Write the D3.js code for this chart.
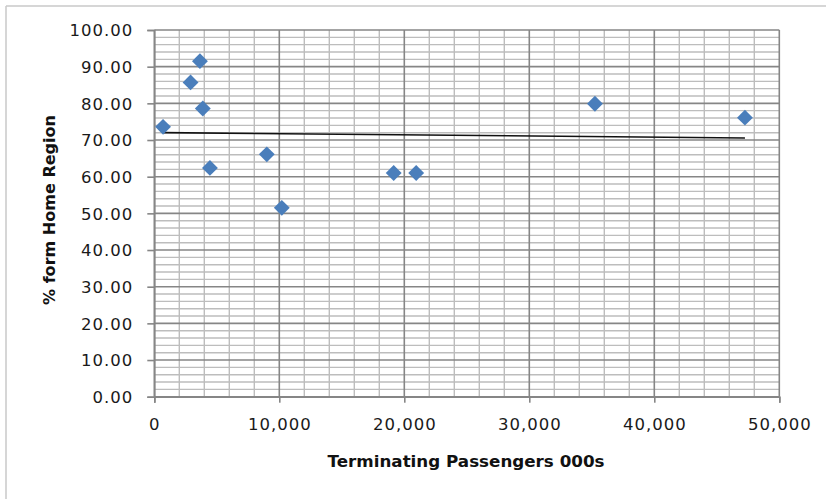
<!DOCTYPE html>
<html>
<head>
<meta charset="utf-8">
<script src="https://cdn.jsdelivr.net/npm/d3@7"></script>
<style>
  html, body { margin: 0; padding: 0; background: #fff; }
  svg { display: block; }
  text { font-family: "DejaVu Sans", Verdana, sans-serif; }
</style>
</head>
<body>
<svg id="chart" width="826" height="499"></svg>
<script>
// ---- data ----
const passengers = [700, 2900, 3650, 3880, 4450, 9000, 10200, 19150, 20950, 35250, 47250];
const homeRegion = [73.6, 85.7, 91.5, 78.6, 62.4, 66.1, 51.5, 61.0, 61.0, 79.9, 76.1];
const xTicks = [0, 10000, 20000, 30000, 40000, 50000];
const yTicks = [0, 10, 20, 30, 40, 50, 60, 70, 80, 90, 100];
const xTitle = "Terminating Passengers 000s";
const yTitle = "% form Home Region";

// ---- layout ----
const svg = d3.select("#chart");
const W = 826, H = 499;
const m = { left: 154.3, right: 779.3, top: 30, bottom: 396.7 };

const x = d3.scaleLinear().domain([0, 50000]).range([m.left, m.right]);
const y = d3.scaleLinear().domain([0, 100]).range([m.bottom, m.top]);

// outer frame (top and left edges visible)
svg.append("line").attr("x1", 6).attr("x2", W).attr("y1", 6).attr("y2", 6)
  .attr("stroke", "#c8c8c8").attr("stroke-width", 1.5);
svg.append("line").attr("x1", 6).attr("x2", 6).attr("y1", 6).attr("y2", H)
  .attr("stroke", "#c8c8c8").attr("stroke-width", 1.5);

const grid = svg.append("g");
// minor grid
const minorX = d3.range(0, 50001, 2000).filter(v => v % 10000 !== 0);
const minorY = d3.range(0, 100.001, 2).filter(v => v % 10 !== 0);
grid.selectAll("line.mx").data(minorX).join("line")
  .attr("x1", d => x(d)).attr("x2", d => x(d)).attr("y1", m.top).attr("y2", m.bottom)
  .attr("stroke", "#bdbdbd").attr("stroke-width", 1.4);
grid.selectAll("line.my").data(minorY).join("line")
  .attr("x1", m.left).attr("x2", m.right).attr("y1", d => y(d)).attr("y2", d => y(d))
  .attr("stroke", "#bdbdbd").attr("stroke-width", 1.4);
// major grid
grid.selectAll("line.Mx").data(xTicks).join("line")
  .attr("x1", d => x(d)).attr("x2", d => x(d)).attr("y1", m.top).attr("y2", m.bottom)
  .attr("stroke", "#868686").attr("stroke-width", 1.6);
grid.selectAll("line.My").data(yTicks).join("line")
  .attr("x1", m.left).attr("x2", m.right).attr("y1", d => y(d)).attr("y2", d => y(d))
  .attr("stroke", "#868686").attr("stroke-width", 1.6);

// axes
const xAxis = d3.axisBottom(x).tickValues(xTicks).tickFormat(d3.format(",")).tickSize(6).tickPadding(20);
const yAxis = d3.axisLeft(y).tickValues(yTicks).tickFormat(d3.format(".2f")).tickSize(7).tickPadding(14);

const gx = svg.append("g").attr("transform", `translate(0,${m.bottom})`).call(xAxis);
const gy = svg.append("g").attr("transform", `translate(${m.left},0)`).call(yAxis);
[gx, gy].forEach(g => {
  g.select(".domain").attr("stroke", "#868686").attr("stroke-width", 1.6);
  g.selectAll(".tick line").attr("stroke", "#868686").attr("stroke-width", 1.6);
  g.selectAll(".tick text").attr("fill", "#1a1a1a").style("font-size", "16.5px")
    .style("font-family", "'DejaVu Sans', sans-serif").style("letter-spacing", "1px");
});
gx.selectAll(".tick text").attr("dy", "0.45em");
gy.selectAll(".tick text").attr("dy", "0.36em");

// trendline (least squares)
const n = passengers.length;
const mx = d3.mean(passengers), my = d3.mean(homeRegion);
let sxy = 0, sxx = 0;
for (let i = 0; i < n; i++) {
  sxy += (passengers[i] - mx) * (homeRegion[i] - my);
  sxx += (passengers[i] - mx) ** 2;
}
const slope = sxy / sxx, intercept = my - slope * mx;
const [x0, x1] = d3.extent(passengers);
svg.append("line")
  .attr("x1", x(x0)).attr("y1", y(intercept + slope * x0))
  .attr("x2", x(x1)).attr("y2", y(intercept + slope * x1))
  .attr("stroke", "#111").attr("stroke-width", 1.6);

// points (diamonds)
const sym = d3.symbol().type(d3.symbolDiamond2).size(160);
svg.selectAll("path.pt").data(passengers.map((d, i) => [d, homeRegion[i]])).join("path")
  .attr("class", "pt")
  .attr("d", sym)
  .attr("transform", d => `translate(${x(d[0])},${y(d[1])})`)
  .attr("fill", "#4a7ebb");

// titles
svg.append("text").attr("x", 466).attr("y", 467).attr("text-anchor", "middle")
  .style("font-size", "16px").style("font-weight", "bold").attr("fill", "#111")
  .attr("textLength", 277).attr("lengthAdjust", "spacingAndGlyphs")
  .text(xTitle);
svg.append("text").attr("transform", "translate(55,210) rotate(-90)").attr("text-anchor", "middle")
  .style("font-size", "16px").style("font-weight", "bold").attr("fill", "#111")
  .attr("textLength", 190).attr("lengthAdjust", "spacingAndGlyphs")
  .text(yTitle);
</script>
</body>
</html>
